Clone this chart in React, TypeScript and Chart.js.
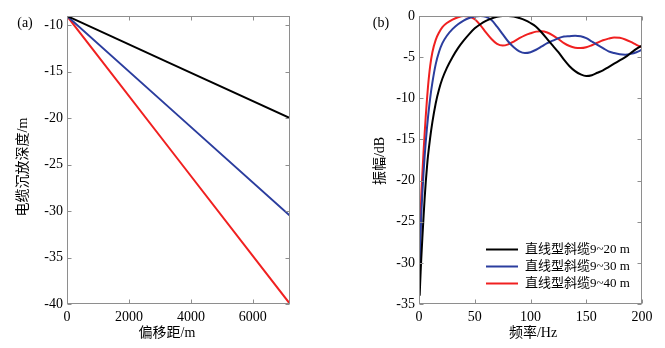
import React, { useEffect, useRef } from "react";
import { Chart, registerables } from "chart.js";

Chart.register(...registerables);

// ---------- Data (a) ----------
const offsetsA = [0, 7200];
const depth9to20 = [-9, -20];
const depth9to30 = [-9, -30.5];
const depth9to40 = [-9, -40];
const xTicksA = [0, 2000, 4000, 6000];
const yTicksA = [-40, -35, -30, -25, -20, -15, -10];

// ---------- Data (b) ----------
const freq = [
  0.6, 1, 1.5, 2, 3, 4, 5, 6, 7, 8, 10, 12, 15, 18, 21, 25, 30, 35, 40, 45, 50,
  55, 60, 65, 70, 75, 80, 85, 90, 95, 100, 105, 110, 115, 120, 125, 130, 135,
  140, 145, 150, 155, 160, 165, 170, 175, 180, 185, 190, 195, 200,
];
const amp9to20 = [
  -34.0, -32.6, -31.0, -29.6, -27.0, -24.6, -22.3, -20.3, -18.6, -17.1, -14.8,
  -12.9, -10.6, -8.9, -7.6, -6.3, -5.0, -3.9, -3.0, -2.2, -1.5, -1.0, -0.6,
  -0.3, -0.1, 0, 0, -0.05, -0.25, -0.5, -0.85, -1.3, -2.0, -2.8, -3.6, -4.4,
  -5.3, -6.1, -6.7, -7.1, -7.3, -7.2, -6.9, -6.6, -6.2, -5.8, -5.4, -5.0, -4.5,
  -4.0, -3.6,
];
const amp9to30 = [
  -30.9, -28.8, -26.4, -24.4, -21.6, -19.2, -17.2, -15.4, -13.8, -12.4, -10.0,
  -8.1, -5.85, -4.35, -3.3, -2.4, -1.6, -1.0, -0.55, -0.25, -0.05, 0, -0.1,
  -0.5, -1.3, -2.2, -3.1, -3.8, -4.3, -4.5, -4.4, -4.1, -3.7, -3.3, -3.0, -2.7,
  -2.5, -2.45, -2.4, -2.45, -2.7, -3.1, -3.5, -3.9, -4.3, -4.5, -4.65, -4.7,
  -4.6, -4.4, -4.1,
];
const amp9to40 = [
  -28.6, -26.4, -24.1, -22.0, -19.2, -16.7, -14.4, -12.3, -10.4, -8.7, -6.1,
  -4.4, -2.9, -2.0, -1.35, -0.85, -0.45, -0.15, 0, -0.05, -0.4, -1.1, -2.0,
  -2.8, -3.4, -3.6, -3.45, -3.1, -2.7, -2.35, -2.1, -1.9, -1.85, -2.0, -2.35,
  -2.8, -3.3, -3.65, -3.85, -3.9, -3.8, -3.55, -3.25, -2.95, -2.75, -2.6,
  -2.65, -2.85, -3.15, -3.5, -3.8,
];
const xTicksB = [0, 50, 100, 150, 200];
const yTicksB = [-35, -30, -25, -20, -15, -10, -5, 0];
const seriesLabels = ["直线型斜缆9~20 m", "直线型斜缆9~30 m", "直线型斜缆9~40 m"];

const COLORS = ["#000000", "#2b3d9e", "#f02020"];
const AXIS_GRAY = "#8e8e8e";
const SERIF = "'Liberation Serif', 'Times New Roman', 'Noto Sans CJK SC', serif";

const toXY = (xs: number[], ys: number[]) => xs.map((x, i) => ({ x, y: ys[i] }));

const boxPlugin = {
  id: "boxTicks",
  afterDraw(chart: any, _args: any, opts: any) {
    const { ctx, chartArea: a, scales } = chart;
    ctx.save();
    ctx.strokeStyle = AXIS_GRAY;
    ctx.lineWidth = 1;
    const L = Math.round(a.left) + 0.5;
    const R = Math.round(a.right) - 0.5;
    const T = Math.round(a.top) + 0.5;
    const B = Math.round(a.bottom) - 0.5;
    ctx.strokeRect(L, T, R - L, B - T);
    const tl = 4;
    ctx.beginPath();
    for (const t of scales.x.ticks) {
      const px = Math.round(scales.x.getPixelForValue(t.value)) + 0.5;
      ctx.moveTo(px, B);
      ctx.lineTo(px, B - tl);
      ctx.moveTo(px, T);
      ctx.lineTo(px, T + tl);
    }
    for (const t of scales.y.ticks) {
      const py = Math.round(scales.y.getPixelForValue(t.value)) + 0.5;
      ctx.moveTo(L, py);
      ctx.lineTo(L + tl, py);
      ctx.moveTo(R, py);
      ctx.lineTo(R - tl, py);
    }
    ctx.stroke();

    ctx.fillStyle = "#000";
    ctx.textAlign = "center";
    ctx.textBaseline = "middle";
    for (const t of opts.texts || []) {
      ctx.save();
      ctx.font = t.font || `14px ${SERIF}`;
      ctx.translate(t.x, t.y);
      if (t.rotate) ctx.rotate(t.rotate);
      ctx.fillText(t.text, 0, 0);
      ctx.restore();
    }

    if (opts.legend) {
      const lg = opts.legend;
      chart.data.datasets.forEach((ds: any, i: number) => {
        const y = lg.y + i * lg.dy;
        ctx.strokeStyle = ds.borderColor;
        ctx.lineWidth = 2;
        ctx.beginPath();
        ctx.moveTo(lg.x, y);
        ctx.lineTo(lg.x + lg.len, y);
        ctx.stroke();
        ctx.fillStyle = "#000";
        ctx.textAlign = "left";
        ctx.font = `13px ${SERIF}`;
        ctx.fillText(ds.label, lg.x + lg.len + 7, y + 0.5);
      });
    }
    ctx.restore();
  },
};

const tickFont = { family: SERIF, size: 14 };

function makeScale(ticks: number[], min: number, max: number, axis: "x" | "y", size: number) {
  return {
    type: "linear",
    min,
    max,
    grid: { display: false, drawTicks: false },
    border: { display: false },
    afterBuildTicks: (s: any) => {
      s.ticks = ticks.map((v) => ({ value: v }));
    },
    afterFit: (s: any) => {
      if (axis === "y") s.width = size;
      else s.height = size;
    },
    ticks: {
      autoSkip: false,
      maxRotation: 0,
      minRotation: 0,
      color: "#000",
      font: tickFont,
      padding: axis === "y" ? 4 : 5,
      callback: (v: any) => String(v),
    },
  };
}

function lineDs(label: string, data: any[], color: string) {
  return {
    label,
    data,
    borderColor: color,
    backgroundColor: color,
    borderWidth: 2,
    pointRadius: 0,
    showLine: true,
    fill: false,
    cubicInterpolationMode: "monotone",
  };
}

export default function App() {
  const refA = useRef<HTMLCanvasElement>(null);
  const refB = useRef<HTMLCanvasElement>(null);

  useEffect(() => {
    const chartA = new Chart(refA.current as HTMLCanvasElement, {
      type: "scatter",
      data: {
        datasets: [
          lineDs("9~20 m", toXY(offsetsA, depth9to20), COLORS[0]),
          lineDs("9~30 m", toXY(offsetsA, depth9to30), COLORS[1]),
          lineDs("9~40 m", toXY(offsetsA, depth9to40), COLORS[2]),
        ] as any,
      },
      options: {
        animation: false,
        responsive: false,
        devicePixelRatio: 1,
        layout: { padding: { left: 0, top: 16, right: 50, bottom: 0 } },
        plugins: {
          legend: { display: false },
          tooltip: { enabled: false },
          boxTicks: {
            texts: [
              { text: "(a)", x: 25, y: 23 },
              { text: "电缆沉放深度/m", x: 23, y: 167, rotate: -Math.PI / 2 },
              { text: "偏移距/m", x: 167, y: 333 },
            ],
          },
        } as any,
        scales: {
          x: makeScale(xTicksA, 0, 7200, "x", 44),
          y: makeScale(yTicksA, -40, -9, "y", 67),
        } as any,
      },
      plugins: [boxPlugin],
    });

    const chartB = new Chart(refB.current as HTMLCanvasElement, {
      type: "scatter",
      data: {
        datasets: [
          lineDs(seriesLabels[0], toXY(freq, amp9to20), COLORS[0]),
          lineDs(seriesLabels[1], toXY(freq, amp9to30), COLORS[1]),
          lineDs(seriesLabels[2], toXY(freq, amp9to40), COLORS[2]),
        ] as any,
      },
      options: {
        animation: false,
        responsive: false,
        devicePixelRatio: 1,
        layout: { padding: { left: 0, top: 16, right: 23, bottom: 0 } },
        plugins: {
          legend: { display: false },
          tooltip: { enabled: false },
          boxTicks: {
            texts: [
              { text: "(b)", x: 41, y: 23 },
              { text: "振幅/dB", x: 40, y: 161, rotate: -Math.PI / 2 },
              { text: "频率/Hz", x: 193, y: 333 },
            ],
            legend: { x: 146, y: 249.5, dy: 17, len: 32 },
          },
        } as any,
        scales: {
          x: makeScale(xTicksB, 0, 200, "x", 44),
          y: makeScale(yTicksB, -35, 0, "y", 79),
        } as any,
      },
      plugins: [boxPlugin],
    });

    return () => {
      chartA.destroy();
      chartB.destroy();
    };
  }, []);

  return (
    <div
      style={{
        position: "fixed",
        left: 0,
        top: 0,
        width: 665,
        height: 348,
        background: "#fff",
        overflow: "hidden",
      }}
    >
      <canvas
        ref={refA}
        width={340}
        height={348}
        style={{ position: "absolute", left: 0, top: 0, width: 340, height: 348 }}
      />
      <canvas
        ref={refB}
        width={325}
        height={348}
        style={{ position: "absolute", left: 340, top: 0, width: 325, height: 348 }}
      />
    </div>
  );
}
